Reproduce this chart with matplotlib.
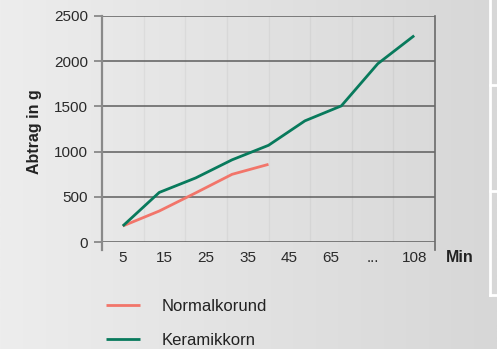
import numpy as np
import matplotlib
matplotlib.use("Agg")
import matplotlib.pyplot as plt
from matplotlib.lines import Line2D

plt.rcParams['font.family'] = ['Liberation Sans', 'DejaVu Sans']

# tick labels on the x axis (minutes)
minutes = ['5', '15', '25', '35', '45', '65', '...', '108']
# measured removal in g, measurements spread evenly from first to last label
normalkorund = [180, 345, 545, 750, 860]
keramikkorn = [180, 550, 710, 910, 1070, 1340, 1505, 1970, 2280]
n_meas = len(keramikkorn)

green = '#087a5c'
salmon = '#f2756a'

fig = plt.figure(figsize=(4.97, 3.49), dpi=100)

# background gradient
bg = fig.add_axes([0, 0, 1, 1], zorder=-10)
grad = np.linspace(0, 1, 256).reshape(1, -1)
bg.imshow(grad, aspect='auto', cmap=matplotlib.colors.LinearSegmentedColormap.from_list(
    'bg', ['#ededed', '#e2e2e2', '#d7d7d7']), extent=[0, 1, 0, 1])
bg.set_axis_off()

ax = fig.add_axes([102 / 497, 1 - 242.3 / 349, 333 / 497, 226.6 / 349])
ax.patch.set_alpha(0)

ax.set_xlim(-0.5, len(minutes) - 0.5)
ax.set_ylim(0, 2500)
ax.set_xticks(range(len(minutes)))
ax.set_xticklabels(minutes)
ax.set_yticks([0, 500, 1000, 1500, 2000, 2500])
ax.set_xticks(np.arange(len(minutes) - 1) + 0.5, minor=True)

ax.grid(axis='y', color='#5e5e5e', lw=1.1)
ax.grid(axis='x', which='minor', color='#000000', alpha=0.045, lw=1)
ax.set_axisbelow(True)

ax.tick_params(axis='x', length=0, pad=6, labelsize=11, colors='#2a2a2a')
ax.tick_params(axis='x', which='minor', length=0)
ax.tick_params(axis='y', length=6, width=1.1, color='#777777', pad=4,
               labelsize=11, labelcolor='#2a2a2a')

for s in ['top', 'bottom']:
    ax.spines[s].set_visible(False)
ax.spines['left'].set_color('#8a8a8a')
ax.spines['left'].set_linewidth(1.6)
ax.spines['left'].set_bounds(-90, 2500)
ax.spines['right'].set_color('#6a6a6a')
ax.spines['right'].set_linewidth(1.2)
ax.spines['right'].set_bounds(-90, 2500)

# measurement axis: first point under first label, last under last label
lx = ax.twiny()
lx.set_xlim(-0.5 * (n_meas - 1) / (len(minutes) - 1),
            (len(minutes) - 0.5) * (n_meas - 1) / (len(minutes) - 1))
lx.set_ylim(0, 2500)
lx.set_axis_off()
lx.plot(range(len(normalkorund)), normalkorund, color=salmon, lw=2.0,
        solid_capstyle='butt', label='Normalkorund')
lx.plot(range(len(keramikkorn)), keramikkorn, color=green, lw=2.0,
        solid_capstyle='butt', label='Keramikkorn')

fig.text(460 / 497, 1 - 258 / 349, 'Min', fontsize=11.5, fontweight='bold',
         ha='center', va='center', color='#222222')
fig.text(35 / 497, 1 - 132 / 349, 'Abtrag in g', fontsize=11.5, fontweight='bold',
         rotation=90, ha='center', va='center', color='#222222')

handles, labels = lx.get_legend_handles_labels()
fig.legend(handles, labels, loc='upper left', bbox_to_anchor=(106 / 497, 1 - 299 / 349),
           frameon=False, borderpad=0, borderaxespad=0, handlelength=2.04,
           handletextpad=1.3, labelspacing=1.12, fontsize=12, labelcolor='#222222')

# decorative panel edge on the right
for xs, ys in [([490, 490], [0, 295]), ([490, 497], [85, 85]),
               ([490, 497], [191, 191]), ([490, 497], [295, 295])]:
    fig.add_artist(Line2D([x / 497 for x in xs], [1 - y / 349 for y in ys],
                          color='white', lw=2, transform=fig.transFigure))

fig.savefig('out.png', dpi=100)
